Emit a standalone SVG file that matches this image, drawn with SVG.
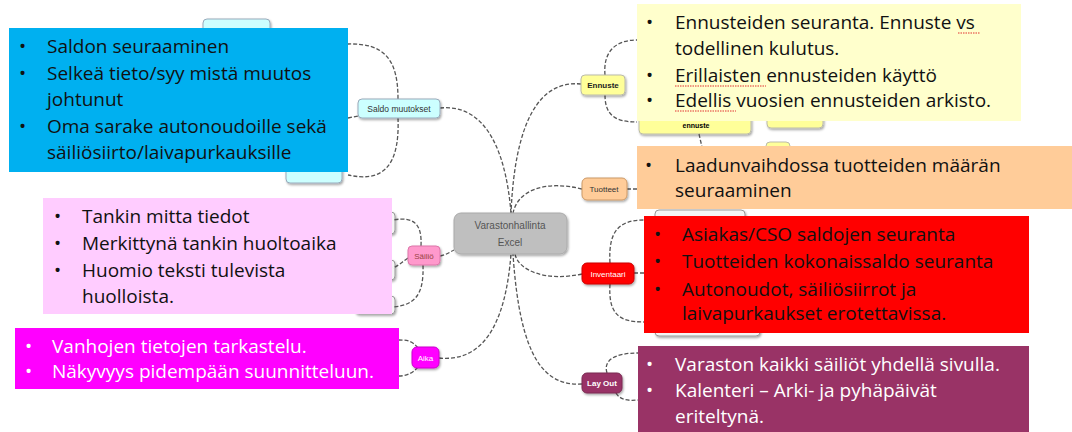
<svg xmlns="http://www.w3.org/2000/svg" width="1072" height="432" viewBox="0 0 1072 432">
<defs>
<filter id="sh" x="-20%" y="-20%" width="150%" height="160%">
<feDropShadow dx="1" dy="1.5" stdDeviation="0.8" flood-color="#000" flood-opacity="0.35"/>
</filter>
<style>
.c{fill:none;stroke:#555;stroke-width:1.3;stroke-dasharray:4 2}
.n{font-family:"Liberation Sans",Arial,sans-serif;font-size:8px;text-anchor:middle}
.b{font-family:"Open Sans","DejaVu Sans",sans-serif;font-size:19px;fill:#111}
.w{fill:#fff}
.sp{fill:none;stroke:#e03030;stroke-width:1;stroke-dasharray:1.5 1}
.hid{fill:#f4f4f4;stroke:#999;stroke-width:1}
</style>
</defs>
<rect width="1072" height="432" fill="#fff"/>

<g id="hidden-nodes">
<rect x="203" y="19" width="67" height="22" rx="4" fill="#ccffff" stroke="#9ab" filter="url(#sh)"/>
<rect x="286" y="158" width="56" height="25" rx="4" fill="#ccffff" stroke="#9ab" filter="url(#sh)"/>
<rect x="639" y="108" width="112" height="26" rx="4" fill="#ffff99" stroke="#bba" filter="url(#sh)"/>
<text class="n" x="696" y="128" font-weight="bold" style="font-size:7px">ennuste</text>
<rect x="767" y="108" width="56" height="20" rx="4" fill="#ffff99" stroke="#bba" filter="url(#sh)"/>
<rect x="766" y="142" width="24" height="16" rx="4" fill="#ffff99" stroke="#bba"/>
<rect class="hid" x="655" y="210" width="90" height="22" rx="4" filter="url(#sh)"/>
<rect class="hid" x="655" y="318" width="105" height="18" rx="4" filter="url(#sh)"/>
<rect class="hid" x="345" y="212" width="50" height="22" rx="4" filter="url(#sh)"/>
<rect class="hid" x="345" y="260" width="50" height="20" rx="4" filter="url(#sh)"/>
<rect class="hid" x="355" y="296" width="40" height="18" rx="4" filter="url(#sh)"/>
</g>

<g id="connectors">
<path class="c" d="M440,108 C480,104 505,140 511,213"/>
<path class="c" d="M581,84 C540,80 515,120 511,213"/>
<path class="c" d="M582,189 C545,180 518,190 513,213"/>
<path class="c" d="M439,358 C480,362 505,330 511,254"/>
<path class="c" d="M582,384 C545,386 520,360 513,254"/>
<path class="c" d="M582,274 C545,282 518,270 515,254"/>
<path class="c" d="M440,256 C446,255 450,252 454,250"/>
<path class="c" d="M398,99 C398,60 385,43 348,44"/>
<path class="c" d="M398,118 C400,170 380,182 348,175"/>
<path class="c" d="M348,118 L358,116"/>
<path class="c" d="M605,75 C603,52 615,40 637,40"/>
<path class="c" d="M605,95 C605,115 615,122 637,122"/>
<path class="c" d="M699,134 L702,147"/>
<path class="c" d="M627,189 L637,189"/>
<path class="c" d="M610,263 C608,230 620,220 644,220"/>
<path class="c" d="M610,284 C608,315 620,322 644,322"/>
<path class="c" d="M634,273 L644,273"/>
<path class="c" d="M607,373 C603,360 615,353 638,353"/>
<path class="c" d="M616,393 C620,400 628,401 638,400"/>
<path class="c" d="M421,246 C422,225 415,216 393,220"/>
<path class="c" d="M408,258 C402,262 398,266 393,268"/>
<path class="c" d="M423,265 C424,295 415,305 393,307"/>
<path class="c" d="M418,348 C412,340 405,340 399,340"/>
<path class="c" d="M418,367 C412,374 405,376 399,376"/>
</g>

<g id="center">
<rect x="454" y="213" width="113" height="41" rx="7" fill="#bfbfbf" stroke="#aaa" filter="url(#sh)"/>
<text class="n" x="510" y="229" style="font-size:10px" fill="#555">Varastonhallinta</text>
<text class="n" x="510" y="246" style="font-size:10px" fill="#555">Excel</text>
</g>

<g id="saldo-muutokset">
<rect x="358" y="99" width="82" height="19" rx="4" fill="#ccffff" stroke="#9ab" filter="url(#sh)"/>
<text class="n" x="399" y="111.5" style="font-size:8.5px" fill="#333">Saldo muutokset</text>
</g>
<g id="ennuste">
<rect x="581" y="75" width="44" height="20" rx="4" fill="#ffff99" stroke="#bba" filter="url(#sh)"/>
<text class="n" x="603" y="88" font-weight="bold" fill="#222">Ennuste</text>
</g>
<g id="tuotteet">
<rect x="582" y="178" width="45" height="22" rx="5" fill="#ffcc99" stroke="#c96" filter="url(#sh)"/>
<text class="n" x="604" y="192" fill="#333">Tuotteet</text>
</g>
<g id="inventaari">
<rect x="582" y="263" width="52" height="21" rx="5" fill="#ff0000" stroke="#c00" filter="url(#sh)"/>
<text class="n" x="608" y="276.5" fill="#fff">Inventaari</text>
</g>
<g id="layout">
<rect x="582" y="373" width="40" height="20" rx="5" fill="#993366" stroke="#7a2a52" filter="url(#sh)"/>
<text class="n" x="602" y="386" font-weight="bold" fill="#fff">Lay Out</text>
</g>
<g id="sailio">
<rect x="408" y="246" width="32" height="19" rx="4" fill="#ff99cc" stroke="#d7a" filter="url(#sh)"/>
<text class="n" x="424" y="258.5" fill="#944">Säiliö</text>
</g>
<g id="aika">
<rect x="412" y="347" width="27" height="21" rx="5" fill="#ff00ff" stroke="#c0c" filter="url(#sh)"/>
<text class="n" x="425.5" y="360.5" fill="#fff">Aika</text>
</g>

<g id="box-saldo">
<rect x="9" y="28" width="339" height="144" fill="#00b0f0"/>
<text class="b"><tspan x="19" y="53">•</tspan><tspan x="47" y="53">Saldon seuraaminen</tspan>
<tspan x="19" y="80">•</tspan><tspan x="47" y="80">Selkeä tieto/syy mistä muutos</tspan>
<tspan x="47" y="106">johtunut</tspan>
<tspan x="19" y="133">•</tspan><tspan x="47" y="133">Oma sarake autonoudoille sekä</tspan>
<tspan x="47" y="159">säiliösiirto/laivapurkauksille</tspan></text>
</g>

<g id="box-ennuste">
<rect x="637" y="4" width="384" height="117" fill="#ffffcc"/>
<text class="b"><tspan x="646" y="29">•</tspan><tspan x="675" y="29">Ennusteiden seuranta. Ennuste vs</tspan>
<tspan x="675" y="55">todellinen kulutus.</tspan>
<tspan x="646" y="82">•</tspan><tspan x="675" y="82">Erillaisten ennusteiden käyttö</tspan>
<tspan x="646" y="107">•</tspan><tspan x="675" y="107">Edellis vuosien ennusteiden arkisto.</tspan></text>
<path class="sp" d="M958,33 L980,33"/>
<path class="sp" d="M675,86 L766,86"/>
<path class="sp" d="M675,111 L736,111"/>
</g>

<g id="box-tuotteet">
<rect x="637" y="146" width="435" height="63" fill="#ffcc99"/>
<text class="b"><tspan x="645" y="172">•</tspan><tspan x="675" y="172">Laadunvaihdossa tuotteiden määrän</tspan>
<tspan x="675" y="197">seuraaminen</tspan></text>
</g>

<g id="box-inventaari">
<rect x="644" y="216" width="385" height="117" fill="#ff0000"/>
<text class="b"><tspan x="654" y="241">•</tspan><tspan x="682" y="241">Asiakas/CSO saldojen seuranta</tspan>
<tspan x="654" y="268">•</tspan><tspan x="682" y="268">Tuotteiden kokonaissaldo seuranta</tspan>
<tspan x="654" y="296">•</tspan><tspan x="682" y="296">Autonoudot, säiliösiirrot ja</tspan>
<tspan x="682" y="320">laivapurkaukset erotettavissa.</tspan></text>
</g>

<g id="box-layout">
<rect x="638" y="346" width="391" height="86" fill="#993366"/>
<text class="b w"><tspan x="646" y="371">•</tspan><tspan x="675" y="371">Varaston kaikki säiliöt yhdellä sivulla.</tspan>
<tspan x="646" y="397">•</tspan><tspan x="675" y="397">Kalenteri – Arki- ja pyhäpäivät</tspan>
<tspan x="675" y="423">eriteltynä.</tspan></text>
</g>

<g id="box-sailio">
<rect x="43" y="198" width="349" height="116" fill="#ffccff"/>
<text class="b"><tspan x="54" y="223">•</tspan><tspan x="82" y="223">Tankin mitta tiedot</tspan>
<tspan x="54" y="250">•</tspan><tspan x="82" y="250">Merkittynä tankin huoltoaika</tspan>
<tspan x="54" y="277">•</tspan><tspan x="82" y="277">Huomio teksti tulevista</tspan>
<tspan x="82" y="303">huolloista.</tspan></text>
</g>

<g id="box-aika">
<rect x="15" y="328" width="384" height="61" fill="#ff00ff"/>
<text class="b w"><tspan x="25" y="353">•</tspan><tspan x="52" y="353">Vanhojen tietojen tarkastelu.</tspan>
<tspan x="25" y="378">•</tspan><tspan x="52" y="378">Näkyvyys pidempään suunnitteluun.</tspan></text>
</g>
</svg>
